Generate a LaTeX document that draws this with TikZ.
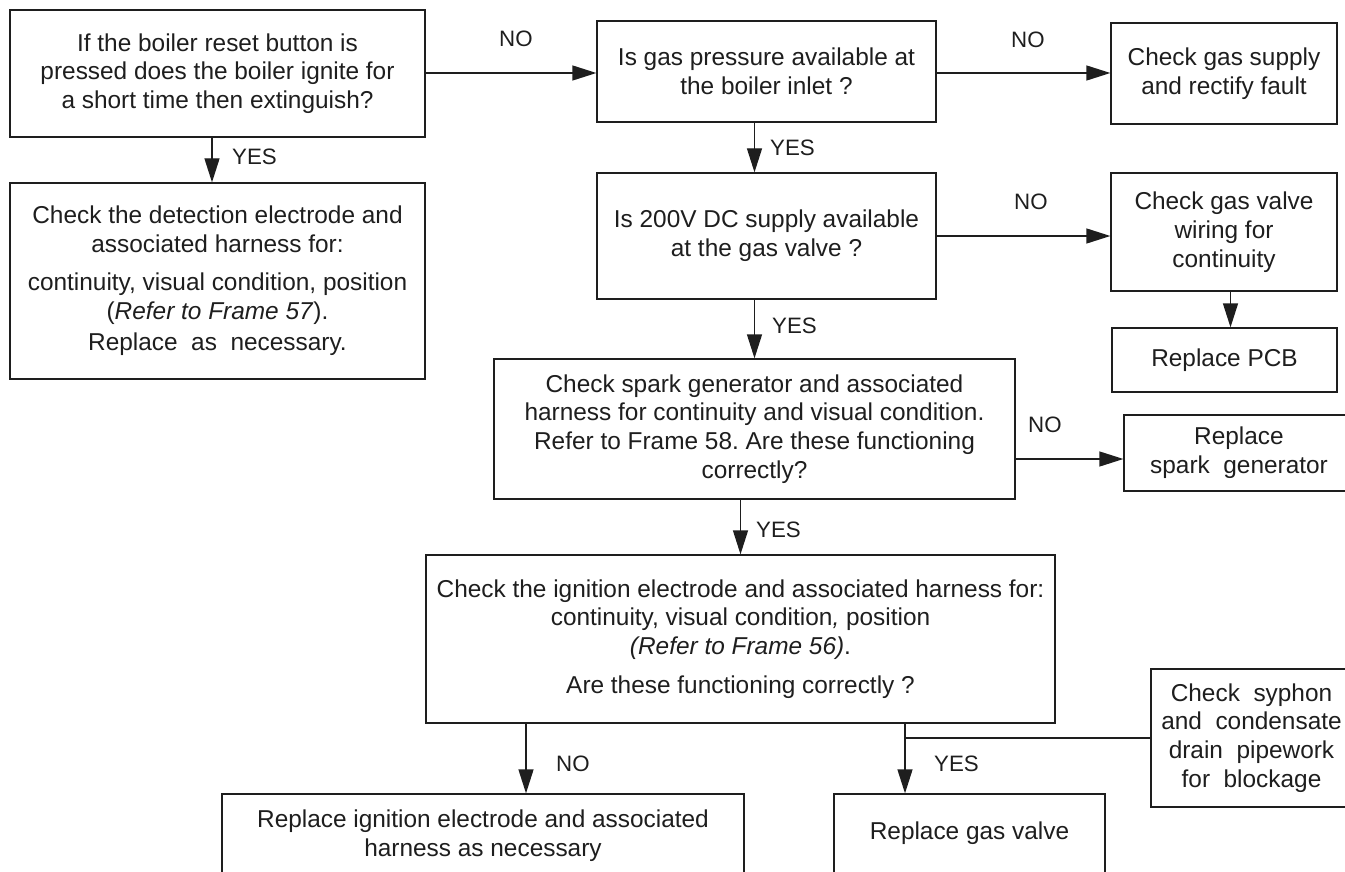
\documentclass[tikz,border=0pt]{standalone}
\usepackage{fontspec}
\setmainfont{Liberation Sans}
\usetikzlibrary{arrows.meta}
\definecolor{ink}{HTML}{1E1E1E}
\frenchspacing
\begin{document}
\begin{tikzpicture}[x=1pt,y=-1pt,
  box/.style={draw=ink, line width=1.3pt, inner sep=0pt, align=center, text=ink,
    font=\fontsize{24.4}{28.8}\selectfont},
  arr/.style={draw=ink, line width=1.3pt, -{Triangle[length=24pt,width=15pt]}},
  conn/.style={draw=ink, line width=1.3pt},
  lbl/.style={anchor=west, inner sep=0pt, text=ink, font=\fontsize{22.3}{26}\selectfont}]
\useasboundingbox (0,0) rectangle (1345,872);
\fill[white] (0,0) rectangle (1345,872);
\clip (0,0) rectangle (1345,872);

% boxes
\node[box, minimum width=415, minimum height=127] (A) at (217.5,73.5)
  {If the boiler reset button is\\ pressed does the boiler ignite for\\ a short time then extinguish?};
\node[box, minimum width=415, minimum height=196] (B) at (217.5,281)
  {Check the detection electrode and\\ associated harness for:\\[9pt]
   continuity, visual condition, position\\ (\textit{Refer to Frame 57}).\\[3pt]
   Replace\ \ as\ \ necessary.};
\node[box, minimum width=339, minimum height=101] (C) at (766.5,71.5)
  {Is gas pressure available at\\ the boiler inlet ?};
\node[box, minimum width=226, minimum height=101] (D) at (1224,73.5)
  {Check gas supply\\ and rectify fault};
\node[box, minimum width=339, minimum height=126] (E) at (766.5,236)
  {Is 200V DC supply available\\ at the gas valve ?};
\node[box, minimum width=226, minimum height=118] (F) at (1224,232)
  {Check gas valve\\ wiring for\\ continuity};
\node[box, minimum width=225, minimum height=64] (G) at (1224.5,360)
  {Replace PCB};
\node[box, minimum width=521, minimum height=140] (H) at (754.5,429)
  {Check spark generator and associated\\ harness for continuity and visual condition.\\
   Refer to Frame 58. Are these functioning\\ correctly?};
\node[box, minimum width=230, minimum height=76] (I) at (1239,453)
  {Replace\\ spark\ \ generator};
\node[box, minimum width=629, minimum height=168] (J) at (740.5,639)
  {Check the ignition electrode and associated harness for:\\
   continuity, visual condition\textit{,} position\\ \textit{(Refer to Frame 56)}.\\[10pt]
   Are these functioning correctly ?};
\node[box, minimum width=522, minimum height=84] (K) at (483,836)
  {Replace ignition electrode and associated\\ harness as necessary};
\node[box, minimum width=271, minimum height=79] (L) at (969.5,833.5)
  {Replace gas valve};
\node[box, minimum width=201, minimum height=138] (M) at (1251.5,738)
  {Check\ \ syphon\\ and\ \ condensate\\ drain\ \ pipework\\ for\ \ blockage};

% connectors
\draw[arr] ([xshift=-5.5]A.south) -- ([xshift=-5.5]A.south |- B.north);
\draw[arr] (A.east |- 0,73) -- (C.west |- 0,73);
\draw[arr] (C.east |- 0,73) -- (D.west |- 0,73);
\draw[arr] (C.south -| H.north) -- (E.north -| H.north);
\draw[arr] (E.east) -- (F.west |- E.east);
\draw[arr] ([xshift=6.5]F.south) -- ([xshift=6.5]F.south |- G.north);
\draw[arr] (E.south -| H.north) -- (H.north);
\draw[arr] (H.east |- 0,459) -- (I.west |- 0,459);
\draw[arr] (H.south -| J.north) -- (J.north);
\draw[arr] ([xshift=-214.5]J.south) -- ([xshift=-214.5]J.south |- K.north);
\coordinate (jl) at ([xshift=164.5]J.south);
\draw[arr] (jl) -- (jl |- L.north);
\draw[conn] (M.west) -- (M.west -| jl);

% labels
\node[lbl] (l1) at (232,157) {YES};
\node[lbl] (l2) at (499,39) {NO};
\node[lbl] (l3) at (1011,40) {NO};
\node[lbl] (l4) at (770,148) {YES};
\node[lbl] (l5) at (1014,202) {NO};
\node[lbl] (l6) at (772,326) {YES};
\node[lbl] (l7) at (1028,425) {NO};
\node[lbl] (l8) at (756,530) {YES};
\node[lbl] (l9) at (556,764) {NO};
\node[lbl] (l10) at (934,764) {YES};
\end{tikzpicture}
\end{document}
